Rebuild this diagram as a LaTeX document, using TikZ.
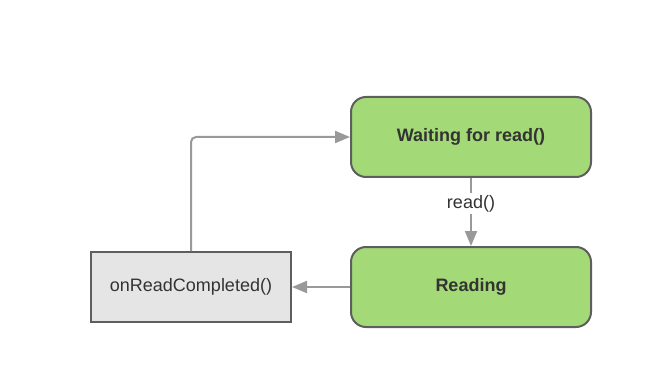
\documentclass[tikz,border=0pt]{standalone}
\usepackage{fontspec}
\setmainfont{Liberation Sans}
\usetikzlibrary{arrows.meta}
\definecolor{boxgreen}{HTML}{A3D977}
\definecolor{boxborder}{HTML}{5E5E5E}
\definecolor{boxgrey}{HTML}{E5E5E5}
\definecolor{arrowgrey}{HTML}{999999}
\definecolor{txt}{HTML}{333333}
\begin{document}
\begin{tikzpicture}[x=1pt,y=-1pt,
  state/.style={draw=boxborder, line width=2pt, fill=boxgreen, rounded corners=15pt,
    minimum width=240pt, minimum height=80pt, inner sep=0pt, text=txt,
    font=\fontsize{18}{21}\selectfont\bfseries},
  action/.style={draw=boxborder, line width=2pt, fill=boxgrey,
    minimum width=200pt, minimum height=70pt, inner sep=0pt, text=txt,
    font=\fontsize{18}{21}\selectfont},
  conn/.style={draw=arrowgrey, line width=2pt, -{Triangle[length=15pt,width=12pt]}},
  lbl/.style={fill=white, text=txt, inner sep=2pt, font=\fontsize{18}{21}\selectfont}]
\useasboundingbox (0,0) rectangle (666,382);
\node[state] (wait) at (471,137) {Waiting for read()};
\node[state] (read) at (471,287) {Reading};
\node[action] (done) at (191,287) {onReadCompleted()};
\draw[conn] (wait.south) -- node[lbl, pos=0.38] (lab) {read()} (read.north);
\draw[conn] (read.west) -- (done.east);
\draw[conn, rounded corners=5pt] (done.north) |- (wait.west);
\end{tikzpicture}
\end{document}
